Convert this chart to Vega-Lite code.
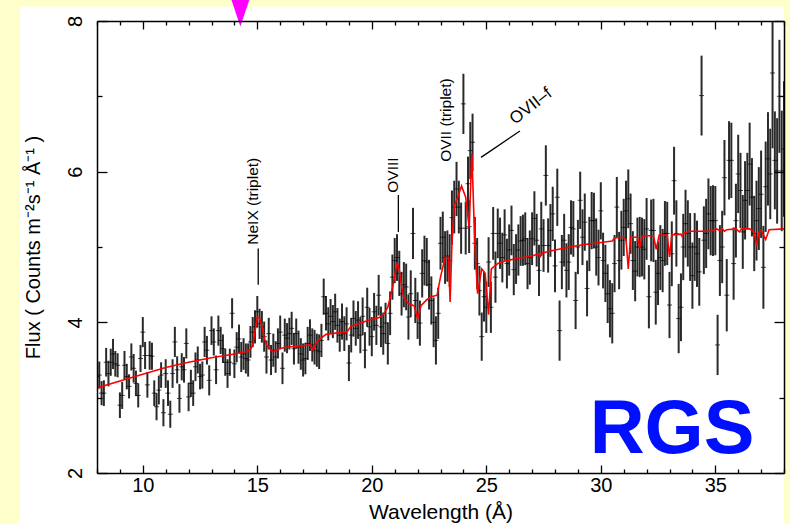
{
"$schema":"https://vega.github.io/schema/vega-lite/v6.json",
"width":687,"height":452,
"autosize":{"type":"none"},
"padding":{"left":97,"top":21,"right":6,"bottom":51},
"background":"#FFFFCC",
"config":{"view":{"stroke":null},"font":"Liberation Sans","text":{"font":"Liberation Sans"},"axis":{"zindex":1}},
"datasets":{
"spec":[
{"x":8.0,"y":3.28,"e":0.17},{"x":8.1,"y":3.30,"e":0.18},{"x":8.2,"y":3.06,"e":0.16},{"x":8.3,"y":3.06,"e":0.17},{"x":8.4,"y":3.47,"e":0.19},{"x":8.5,"y":3.32,"e":0.17},{"x":8.6,"y":3.47,"e":0.18},{"x":8.7,"y":3.58,"e":0.2},{"x":8.8,"y":3.45,"e":0.17},{"x":8.9,"y":3.43,"e":0.16},
{"x":9.0,"y":2.90,"e":0.17},{"x":9.1,"y":3.03,"e":0.18},{"x":9.2,"y":3.43,"e":0.19},{"x":9.3,"y":3.28,"e":0.17},{"x":9.4,"y":3.15,"e":0.16},{"x":9.5,"y":3.54,"e":0.18},{"x":9.6,"y":3.39,"e":0.19},{"x":9.7,"y":3.19,"e":0.17},{"x":9.8,"y":3.03,"e":0.16},{"x":9.9,"y":3.52,"e":0.18},
{"x":10.0,"y":3.87,"e":0.2},{"x":10.1,"y":3.56,"e":0.18},{"x":10.2,"y":3.17,"e":0.17},{"x":10.3,"y":3.56,"e":0.19},{"x":10.4,"y":3.55,"e":0.18},{"x":10.5,"y":3.06,"e":0.17},{"x":10.6,"y":2.88,"e":0.18},{"x":10.7,"y":3.10,"e":0.19},{"x":10.8,"y":3.30,"e":0.17},{"x":10.9,"y":2.80,"e":0.18},
{"x":11.0,"y":3.32,"e":0.19},{"x":11.1,"y":3.06,"e":0.17},{"x":11.2,"y":2.78,"e":0.18},{"x":11.3,"y":3.32,"e":0.19},{"x":11.4,"y":3.74,"e":0.2},{"x":11.5,"y":3.37,"e":0.18},{"x":11.6,"y":2.99,"e":0.19},{"x":11.7,"y":3.41,"e":0.18},{"x":11.8,"y":3.37,"e":0.17},{"x":11.9,"y":3.72,"e":0.2},
{"x":12.0,"y":3.01,"e":0.19},{"x":12.1,"y":3.19,"e":0.18},{"x":12.2,"y":3.06,"e":0.17},{"x":12.3,"y":3.41,"e":0.19},{"x":12.4,"y":3.50,"e":0.18},{"x":12.5,"y":3.28,"e":0.17},{"x":12.6,"y":3.30,"e":0.18},{"x":12.7,"y":3.74,"e":0.2},{"x":12.8,"y":3.63,"e":0.19},{"x":12.9,"y":3.23,"e":0.2},
{"x":13.0,"y":3.89,"e":0.19},{"x":13.1,"y":3.74,"e":0.18},{"x":13.2,"y":3.37,"e":0.19},{"x":13.3,"y":3.89,"e":0.2},{"x":13.4,"y":3.76,"e":0.18},{"x":13.5,"y":3.65,"e":0.19},{"x":13.6,"y":3.47,"e":0.18},{"x":13.7,"y":3.32,"e":0.19},{"x":13.8,"y":3.47,"e":0.18},{"x":13.9,"y":4.12,"e":0.2},
{"x":14.0,"y":3.45,"e":0.19},{"x":14.1,"y":3.67,"e":0.2},{"x":14.2,"y":3.78,"e":0.19},{"x":14.3,"y":3.54,"e":0.2},{"x":14.4,"y":3.58,"e":0.21},{"x":14.5,"y":3.52,"e":0.2},{"x":14.6,"y":3.50,"e":0.22},{"x":14.7,"y":3.74,"e":0.21},{"x":14.8,"y":3.87,"e":0.2},{"x":14.9,"y":3.94,"e":0.22},
{"x":15.0,"y":4.14,"e":0.21},{"x":15.1,"y":3.98,"e":0.2},{"x":15.2,"y":3.94,"e":0.21},{"x":15.3,"y":3.81,"e":0.2},{"x":15.4,"y":3.54,"e":0.22},{"x":15.5,"y":3.85,"e":0.21},{"x":15.6,"y":3.50,"e":0.2},{"x":15.7,"y":3.63,"e":0.22},{"x":15.8,"y":3.54,"e":0.21},{"x":15.9,"y":3.72,"e":0.2},
{"x":16.0,"y":3.87,"e":0.22},{"x":16.1,"y":3.39,"e":0.21},{"x":16.2,"y":3.83,"e":0.22},{"x":16.3,"y":3.79,"e":0.2},{"x":16.4,"y":3.85,"e":0.21},{"x":16.5,"y":3.92,"e":0.22},{"x":16.6,"y":3.65,"e":0.21},{"x":16.7,"y":3.85,"e":0.2},{"x":16.8,"y":3.67,"e":0.22},{"x":16.9,"y":3.58,"e":0.21},
{"x":17.0,"y":3.50,"e":0.22},{"x":17.1,"y":3.52,"e":0.21},{"x":17.2,"y":3.72,"e":0.22},{"x":17.3,"y":3.83,"e":0.21},{"x":17.4,"y":3.70,"e":0.22},{"x":17.5,"y":3.67,"e":0.23},{"x":17.6,"y":3.63,"e":0.22},{"x":17.7,"y":3.61,"e":0.23},{"x":17.8,"y":3.76,"e":0.22},{"x":17.9,"y":4.34,"e":0.24},
{"x":18.0,"y":4.12,"e":0.23},{"x":18.1,"y":3.98,"e":0.22},{"x":18.2,"y":4.08,"e":0.23},{"x":18.3,"y":4.01,"e":0.22},{"x":18.4,"y":4.14,"e":0.24},{"x":18.5,"y":3.96,"e":0.23},{"x":18.6,"y":3.83,"e":0.22},{"x":18.7,"y":4.01,"e":0.24},{"x":18.8,"y":3.85,"e":0.23},{"x":18.9,"y":3.98,"e":0.22},
{"x":19.0,"y":3.46,"e":0.24},{"x":19.1,"y":3.83,"e":0.23},{"x":19.2,"y":4.05,"e":0.24},{"x":19.3,"y":3.92,"e":0.23},{"x":19.4,"y":4.03,"e":0.25},{"x":19.5,"y":3.83,"e":0.24},{"x":19.6,"y":4.08,"e":0.25},{"x":19.7,"y":3.63,"e":0.24},{"x":19.8,"y":4.20,"e":0.26},{"x":19.9,"y":3.94,"e":0.25},
{"x":20.0,"y":3.81,"e":0.26},{"x":20.1,"y":4.14,"e":0.25},{"x":20.2,"y":3.96,"e":0.26},{"x":20.3,"y":4.36,"e":0.27},{"x":20.4,"y":3.94,"e":0.27},{"x":20.5,"y":3.85,"e":0.28},{"x":20.6,"y":3.99,"e":0.27},{"x":20.7,"y":3.72,"e":0.28},{"x":20.8,"y":4.12,"e":0.29},{"x":20.9,"y":4.60,"e":0.3},
{"x":21.0,"y":4.82,"e":0.3},{"x":21.1,"y":4.86,"e":0.31},{"x":21.2,"y":4.65,"e":0.3},{"x":21.3,"y":4.38,"e":0.29},{"x":21.4,"y":4.50,"e":0.3},{"x":21.5,"y":4.47,"e":0.31},{"x":21.6,"y":4.07,"e":0.3},{"x":21.7,"y":4.38,"e":0.31},{"x":21.8,"y":5.18,"e":0.34},{"x":21.9,"y":4.29,"e":0.3},
{"x":22.0,"y":4.09,"e":0.31},{"x":22.1,"y":3.99,"e":0.3},{"x":22.2,"y":4.65,"e":0.32},{"x":22.3,"y":4.82,"e":0.33},{"x":22.4,"y":4.80,"e":0.32},{"x":22.5,"y":4.50,"e":0.33},{"x":22.6,"y":4.29,"e":0.32},{"x":22.7,"y":4.00,"e":0.33},{"x":22.8,"y":3.76,"e":0.32},{"x":22.9,"y":4.12,"e":0.34},
{"x":23.0,"y":5.05,"e":0.35},{"x":23.1,"y":5.13,"e":0.34},{"x":23.2,"y":4.86,"e":0.35},{"x":23.3,"y":4.88,"e":0.34},{"x":23.4,"y":4.82,"e":0.35},{"x":23.5,"y":5.39,"e":0.36},{"x":23.6,"y":5.53,"e":0.35},{"x":23.7,"y":5.77,"e":0.36},{"x":23.8,"y":5.53,"e":0.35},{"x":23.9,"y":5.25,"e":0.34},
{"x":24.0,"y":6.90,"e":0.4},{"x":24.1,"y":5.25,"e":0.35},{"x":24.2,"y":5.84,"e":0.36},{"x":24.25,"y":5.27,"e":0.35},{"x":24.3,"y":6.28,"e":0.38},{"x":24.4,"y":6.39,"e":0.38},{"x":24.5,"y":5.05,"e":0.35},{"x":24.6,"y":4.78,"e":0.34},{"x":24.7,"y":4.42,"e":0.33},{"x":24.8,"y":3.81,"e":0.32},
{"x":24.9,"y":4.34,"e":0.33},{"x":25.0,"y":4.20,"e":0.34},{"x":25.1,"y":4.80,"e":0.33},{"x":25.2,"y":4.20,"e":0.34},{"x":25.3,"y":5.18,"e":0.35},{"x":25.4,"y":4.60,"e":0.34},{"x":25.5,"y":5.18,"e":0.33},{"x":25.6,"y":5.05,"e":0.34},{"x":25.7,"y":4.86,"e":0.33},{"x":25.8,"y":5.16,"e":0.34},
{"x":25.9,"y":4.78,"e":0.33},{"x":26.0,"y":4.96,"e":0.34},{"x":26.1,"y":5.22,"e":0.33},{"x":26.2,"y":4.70,"e":0.34},{"x":26.3,"y":4.84,"e":0.33},{"x":26.4,"y":4.96,"e":0.34},{"x":26.5,"y":5.08,"e":0.33},{"x":26.6,"y":5.09,"e":0.34},{"x":26.7,"y":5.11,"e":0.35},{"x":26.8,"y":4.78,"e":0.34},
{"x":26.9,"y":4.86,"e":0.36},{"x":27.0,"y":5.11,"e":0.35},{"x":27.1,"y":5.38,"e":0.36},{"x":27.2,"y":5.09,"e":0.35},{"x":27.3,"y":4.69,"e":0.34},{"x":27.4,"y":5.24,"e":0.36},{"x":27.5,"y":5.02,"e":0.35},{"x":27.6,"y":5.95,"e":0.4},{"x":27.7,"y":5.02,"e":0.36},{"x":27.8,"y":5.22,"e":0.35},
{"x":27.9,"y":5.44,"e":0.36},{"x":28.0,"y":4.75,"e":0.35},{"x":28.1,"y":5.66,"e":0.38},{"x":28.2,"y":3.89,"e":0.4},{"x":28.3,"y":4.80,"e":0.36},{"x":28.4,"y":5.09,"e":0.35},{"x":28.5,"y":4.69,"e":0.36},{"x":28.6,"y":4.80,"e":0.37},{"x":28.7,"y":5.26,"e":0.36},{"x":28.8,"y":5.24,"e":0.37},
{"x":28.9,"y":4.29,"e":0.38},{"x":29.0,"y":5.00,"e":0.36},{"x":29.1,"y":5.62,"e":0.38},{"x":29.2,"y":5.13,"e":0.37},{"x":29.3,"y":5.33,"e":0.38},{"x":29.4,"y":4.45,"e":0.37},{"x":29.5,"y":5.04,"e":0.36},{"x":29.6,"y":5.35,"e":0.38},{"x":29.7,"y":5.35,"e":0.37},{"x":29.8,"y":5.00,"e":0.38},
{"x":29.9,"y":4.86,"e":0.37},{"x":30.0,"y":5.48,"e":0.38},{"x":30.1,"y":4.82,"e":0.37},{"x":30.2,"y":4.65,"e":0.38},{"x":30.3,"y":4.38,"e":0.39},{"x":30.4,"y":4.18,"e":0.38},{"x":30.5,"y":4.12,"e":0.4},{"x":30.6,"y":4.78,"e":0.38},{"x":30.7,"y":5.53,"e":0.4},{"x":30.8,"y":4.82,"e":0.38},
{"x":30.9,"y":5.09,"e":0.39},{"x":31.0,"y":5.26,"e":0.38},{"x":31.1,"y":5.48,"e":0.4},{"x":31.2,"y":5.64,"e":0.39},{"x":31.3,"y":5.31,"e":0.4},{"x":31.4,"y":4.82,"e":0.39},{"x":31.5,"y":4.68,"e":0.4},{"x":31.6,"y":5.00,"e":0.39},{"x":31.7,"y":5.00,"e":0.4},{"x":31.8,"y":5.00,"e":0.39},
{"x":31.9,"y":4.97,"e":0.4},{"x":32.0,"y":5.24,"e":0.41},{"x":32.1,"y":4.34,"e":0.42},{"x":32.2,"y":5.22,"e":0.41},{"x":32.3,"y":5.22,"e":0.42},{"x":32.4,"y":4.40,"e":0.43},{"x":32.5,"y":4.65,"e":0.42},{"x":32.6,"y":4.86,"e":0.43},{"x":32.7,"y":4.82,"e":0.42},{"x":32.8,"y":5.18,"e":0.43},
{"x":32.9,"y":5.18,"e":0.42},{"x":33.0,"y":4.23,"e":0.44},{"x":33.1,"y":4.91,"e":0.43},{"x":33.2,"y":5.88,"e":0.45},{"x":33.3,"y":5.18,"e":0.44},{"x":33.4,"y":4.05,"e":0.46},{"x":33.5,"y":4.20,"e":0.45},{"x":33.6,"y":5.00,"e":0.44},{"x":33.7,"y":5.31,"e":0.45},{"x":33.8,"y":5.18,"e":0.44},
{"x":33.9,"y":5.00,"e":0.45},{"x":34.0,"y":4.62,"e":0.44},{"x":34.1,"y":5.00,"e":0.45},{"x":34.2,"y":4.91,"e":0.44},{"x":34.3,"y":4.67,"e":0.45},{"x":34.4,"y":7.01,"e":0.53},{"x":34.5,"y":5.09,"e":0.45},{"x":34.6,"y":5.18,"e":0.46},{"x":34.7,"y":5.44,"e":0.47},{"x":34.8,"y":5.35,"e":0.46},
{"x":34.9,"y":5.35,"e":0.47},{"x":35.0,"y":5.35,"e":0.46},{"x":35.1,"y":3.70,"e":0.4},{"x":35.2,"y":4.82,"e":0.47},{"x":35.3,"y":5.00,"e":0.48},{"x":35.4,"y":5.92,"e":0.5},{"x":35.5,"y":4.36,"e":0.48},{"x":35.6,"y":6.15,"e":0.52},{"x":35.7,"y":6.15,"e":0.5},{"x":35.8,"y":4.78,"e":0.48},
{"x":35.9,"y":5.35,"e":0.49},{"x":36.0,"y":5.97,"e":0.52},{"x":36.1,"y":5.75,"e":0.5},{"x":36.2,"y":5.20,"e":0.49},{"x":36.3,"y":5.62,"e":0.52},{"x":36.4,"y":5.75,"e":0.5},{"x":36.5,"y":6.10,"e":0.55},{"x":36.6,"y":5.66,"e":0.52},{"x":36.7,"y":5.18,"e":0.5},{"x":36.8,"y":5.35,"e":0.53},
{"x":36.9,"y":5.51,"e":0.55},{"x":37.0,"y":5.70,"e":0.58},{"x":37.1,"y":4.73,"e":0.55},{"x":37.2,"y":5.80,"e":0.6},{"x":37.3,"y":6.17,"e":0.62},{"x":37.4,"y":5.97,"e":0.6},{"x":37.5,"y":7.31,"e":1.0},{"x":37.6,"y":6.15,"e":0.65},{"x":37.7,"y":6.01,"e":0.7},{"x":37.8,"y":7.00,"e":0.75},
{"x":37.9,"y":6.01,"e":0.8},{"x":38.0,"y":6.30,"e":0.9}
],
"model":[
{"x":8.0,"m":3.13},{"x":9.0,"m":3.22},{"x":10.0,"m":3.31},{"x":11.0,"m":3.40},{"x":12.0,"m":3.47},{"x":13.0,"m":3.53},{"x":14.0,"m":3.58},{"x":14.5,"m":3.61},{"x":14.7,"m":3.64},{"x":14.8,"m":3.70},{"x":14.9,"m":3.88},{"x":15.0,"m":4.07},{"x":15.1,"m":4.05},{"x":15.2,"m":3.95},{"x":15.3,"m":3.80},{"x":15.4,"m":3.70},{"x":15.6,"m":3.63},{"x":15.7,"m":3.61},{"x":15.9,"m":3.64},{"x":16.2,"m":3.67},{"x":17.0,"m":3.69},{"x":17.3,"m":3.70},{"x":17.4,"m":3.66},{"x":17.45,"m":3.63},{"x":17.55,"m":3.72},{"x":17.7,"m":3.77},{"x":18.0,"m":3.84},{"x":18.5,"m":3.86},{"x":18.9,"m":3.87},{"x":19.1,"m":3.95},{"x":19.5,"m":3.99},{"x":19.8,"m":4.02},{"x":20.0,"m":4.04},{"x":20.3,"m":4.06},{"x":20.5,"m":4.10},{"x":20.7,"m":4.20},{"x":20.9,"m":4.45},{"x":21.1,"m":4.79},{"x":21.2,"m":4.70},{"x":21.3,"m":4.48},{"x":21.4,"m":4.32},{"x":21.6,"m":4.25},{"x":21.85,"m":4.22},{"x":22.0,"m":4.05},{"x":22.15,"m":4.22},{"x":22.4,"m":4.30},{"x":22.6,"m":4.34},{"x":22.85,"m":4.36},{"x":23.0,"m":4.60},{"x":23.2,"m":4.86},{"x":23.35,"m":4.86},{"x":23.42,"m":4.27},{"x":23.5,"m":5.05},{"x":23.6,"m":5.54},{"x":23.75,"m":5.66},{"x":23.92,"m":5.81},{"x":24.1,"m":5.66},{"x":24.25,"m":5.26},{"x":24.37,"m":6.24},{"x":24.5,"m":5.02},{"x":24.62,"m":4.38},{"x":24.8,"m":4.71},{"x":24.95,"m":4.65},{"x":25.1,"m":4.10},{"x":25.22,"m":4.71},{"x":25.5,"m":4.78},{"x":25.9,"m":4.82},{"x":26.4,"m":4.85},{"x":27.0,"m":4.88},{"x":27.3,"m":4.91},{"x":27.35,"m":4.87},{"x":27.45,"m":4.92},{"x":28.0,"m":4.96},{"x":29.0,"m":5.02},{"x":30.0,"m":5.06},{"x":30.5,"m":5.08},{"x":30.6,"m":5.12},{"x":31.0,"m":5.13},{"x":31.1,"m":5.10},{"x":31.2,"m":4.71},{"x":31.3,"m":5.13},{"x":31.6,"m":5.13},{"x":31.7,"m":4.99},{"x":31.8,"m":5.14},{"x":32.0,"m":5.15},{"x":32.3,"m":5.15},{"x":32.42,"m":4.97},{"x":32.55,"m":5.16},{"x":32.9,"m":5.16},{"x":33.0,"m":4.87},{"x":33.1,"m":5.16},{"x":33.5,"m":5.17},{"x":33.55,"m":5.14},{"x":33.65,"m":5.19},{"x":33.9,"m":5.21},{"x":34.8,"m":5.21},{"x":35.05,"m":5.24},{"x":35.2,"m":5.22},{"x":35.3,"m":5.24},{"x":35.4,"m":5.21},{"x":35.5,"m":5.23},{"x":35.9,"m":5.24},{"x":36.05,"m":5.20},{"x":36.15,"m":5.24},{"x":36.5,"m":5.24},{"x":36.7,"m":5.20},{"x":36.8,"m":5.01},{"x":36.9,"m":5.20},{"x":37.0,"m":5.22},{"x":37.2,"m":5.10},{"x":37.35,"m":5.23},{"x":38.0,"m":5.24}
],
"lines":[
{"x":15.04,"y":4.50,"x2":15.04,"y2":4.98},
{"x":21.16,"y":5.20,"x2":21.16,"y2":5.69},
{"x":24.77,"y":6.19,"x2":26.47,"y2":6.54}
],
"vlabels":[
{"x":15.04,"y":5.03,"t":"NeIX (triplet)"},
{"x":21.14,"y":5.72,"t":"OVIII"},
{"x":23.47,"y":6.13,"t":"OVII (triplet)"}
]
},
"resolve":{"axis":{"x":"independent","y":"independent"}},
"layer":[
{"data":{"values":[{}]},
 "mark":{"type":"rect","fill":"white","clip":false},
 "encoding":{
  "x":{"datum":4.63,"type":"quantitative","scale":{"domain":[8,38],"nice":false,"zero":false},"axis":null},
  "x2":{"datum":38},
  "y":{"datum":1.2,"type":"quantitative","scale":{"domain":[2,8],"nice":false,"zero":false},"axis":null},
  "y2":{"datum":8.19}}},
{"data":{"name":"spec"},
 "mark":{"type":"errorbar","color":"#2a2a2a","thickness":2,"clip":true},
 "encoding":{
  "x":{"field":"x","type":"quantitative","scale":{"domain":[8,38],"nice":false,"zero":false},
   "axis":{"orient":"bottom","zindex":1,"values":[8,9,10,11,12,13,14,15,16,17,18,19,20,21,22,23,24,25,26,27,28,29,30,31,32,33,34,35,36,37,38],
    "labelExpr":"datum.value % 5 === 0 ? datum.label : ''",
    "tickSize":{"condition":{"test":"datum.value % 5 === 0","value":-8},"value":-4},
    "grid":false,"domainColor":"black","domainWidth":1.5,"tickColor":"black","tickWidth":1.3,
    "labelFont":"Liberation Sans","labelFontSize":20,"labelColor":"black","labelPadding":10,"labelFlush":false,"labelOverlap":false,
    "title":"Wavelength (Å)","titleFont":"Liberation Sans","titleFontSize":21,"titleFontWeight":"normal","titleColor":"black","titlePadding":2}},
  "y":{"field":"y","type":"quantitative","scale":{"domain":[2,8],"nice":false,"zero":false},
   "axis":{"orient":"left","zindex":1,"values":[2,3,4,5,6,7,8],
    "labelExpr":"datum.value % 2 === 0 ? datum.label : ''",
    "tickSize":{"condition":{"test":"datum.value % 2 === 0","value":-10},"value":-5},
    "grid":false,"domainColor":"black","domainWidth":1.5,"tickColor":"black","tickWidth":1.3,
    "labelFont":"Liberation Sans","labelFontSize":20,"labelColor":"black","labelAngle":270,"labelAlign":"center","labelBaseline":"bottom","labelPadding":22,"labelFlush":false,"labelOverlap":false,
    "title":"Flux ( Counts m⁻²s⁻¹ Å⁻¹ )","titleFont":"Liberation Sans","titleFontSize":20,"titleFontWeight":"normal","titleColor":"black","titlePadding":17}},
  "yError":{"field":"e"}}},
{"data":{"name":"spec"},
 "mark":{"type":"tick","orient":"horizontal","color":"black","size":5,"thickness":1,"clip":true},
 "encoding":{
  "x":{"field":"x","type":"quantitative","scale":{"domain":[8,38],"nice":false,"zero":false},
   "axis":{"orient":"top","zindex":1,"values":[8,9,10,11,12,13,14,15,16,17,18,19,20,21,22,23,24,25,26,27,28,29,30,31,32,33,34,35,36,37,38],
    "labels":false,"title":null,"grid":false,
    "tickSize":{"condition":{"test":"datum.value % 5 === 0","value":-8},"value":-4},
    "domainColor":"black","domainWidth":1.5,"tickColor":"black","tickWidth":1.3}},
  "y":{"field":"y","type":"quantitative","scale":{"domain":[2,8],"nice":false,"zero":false},
   "axis":{"orient":"right","zindex":1,"values":[2,3,4,5,6,7,8],"labels":false,"title":null,"grid":false,
    "tickSize":{"condition":{"test":"datum.value % 2 === 0","value":-10},"value":-5},
    "domainColor":"black","domainWidth":1.5,"tickColor":"black","tickWidth":1.3}}}},
{"data":{"name":"model"},
 "mark":{"type":"line","color":"#FF0000","strokeWidth":1.6,"clip":true},
 "encoding":{
  "x":{"field":"x","type":"quantitative","axis":null},
  "y":{"field":"m","type":"quantitative","axis":null}}},
{"data":{"name":"lines"},
 "mark":{"type":"rule","color":"black","strokeWidth":1.3},
 "encoding":{
  "x":{"field":"x","type":"quantitative","axis":null},
  "x2":{"field":"x2"},
  "y":{"field":"y","type":"quantitative","axis":null},
  "y2":{"field":"y2"}}},
{"data":{"name":"vlabels"},
 "mark":{"type":"text","angle":270,"align":"left","baseline":"alphabetic","fontSize":15.5,"font":"Liberation Sans","color":"black"},
 "encoding":{
  "x":{"field":"x","type":"quantitative","axis":null},
  "y":{"field":"y","type":"quantitative","axis":null},
  "text":{"field":"t"}}},
{"data":{"values":[{"x":26.25,"y":6.62,"t":"OVII–f"}]},
 "mark":{"type":"text","angle":322,"align":"left","baseline":"alphabetic","fontSize":17,"font":"Liberation Sans","color":"black"},
 "encoding":{
  "x":{"field":"x","type":"quantitative","axis":null},
  "y":{"field":"y","type":"quantitative","axis":null},
  "text":{"field":"t"}}},
{"data":{"values":[{"x":33.11,"y":2.265,"t":"RGS"}]},
 "mark":{"type":"text","align":"center","baseline":"alphabetic","fontSize":76,"fontWeight":"bold","font":"Liberation Sans","color":"#0010FF"},
 "encoding":{
  "x":{"field":"x","type":"quantitative","axis":null},
  "y":{"field":"y","type":"quantitative","axis":null},
  "text":{"field":"t"}}},
{"data":{"values":[{"x":14.26,"y":8.126}]},
 "mark":{"type":"point","shape":"M-0.67,-1L0.67,-1L0,1Z","size":900,"filled":true,"color":"#FF00FF","opacity":1,"clip":false},
 "encoding":{
  "x":{"field":"x","type":"quantitative","axis":null},
  "y":{"field":"y","type":"quantitative","axis":null}}}
]
}
